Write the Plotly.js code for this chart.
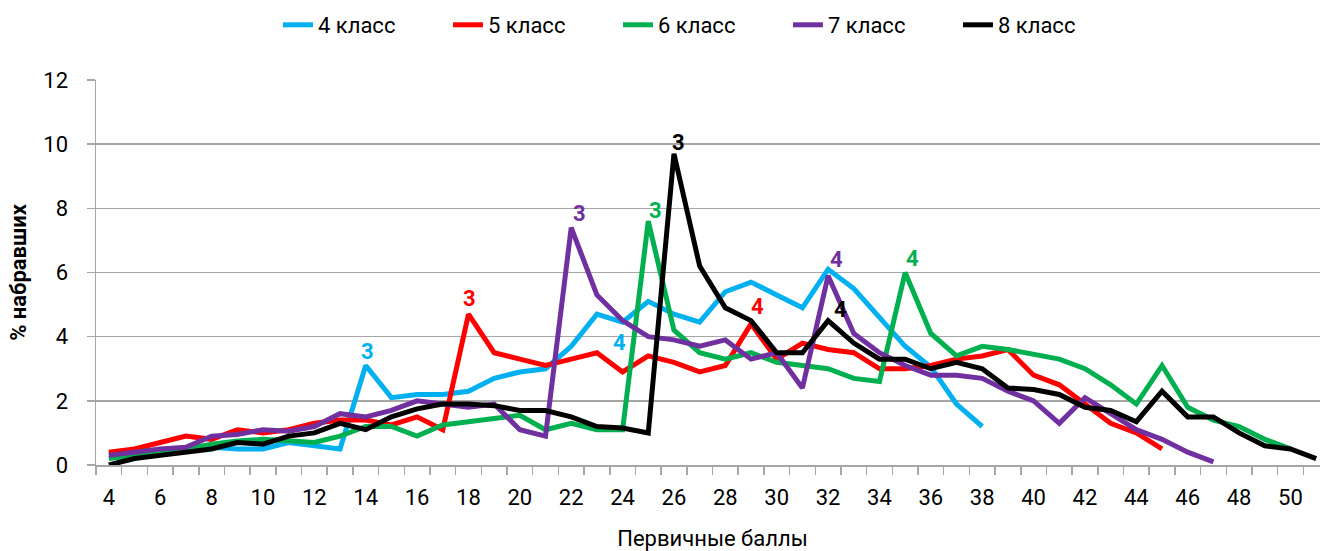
<!DOCTYPE html>
<html>
<head>
<meta charset="utf-8">
<script src="https://cdn.plot.ly/plotly-3.0.1.min.js"></script>
<style>
  html, body { margin: 0; padding: 0; overflow: hidden; background: #fff; }
  #chart { width: 1330px; height: 551px; }
</style>
</head>
<body>
<div id="chart"></div>
<script>
// Categories: primary scores
const scores = [4,5,6,7,8,9,10,11,12,13,14,15,16,17,18,19,20,21,22,23,24,25,26,27,28,29,30,31,32,33,34,35,36,37,38,39,40,41,42,43,44,45,46,47,48,49,50,51];
const xTickLabels = ['4','6','8','10','12','14','16','18','20','22','24','26','28','30','32','34','36','38','40','42','44','46','48','50'];
const xTickValues = [4,6,8,10,12,14,16,18,20,22,24,26,28,30,32,34,36,38,40,42,44,46,48,50];

const seriesNames = ['4 класс', '5 класс', '6 класс', '7 класс', '8 класс'];

// % of pupils per score (starting at score 4)
const grade4 = [0.3,0.35,0.4,0.5,0.55,0.5,0.5,0.7,0.6,0.5,
                3.1,2.1,2.2,2.2,2.3,2.7,2.9,3.0,3.7,4.7,
                4.45,5.1,4.7,4.45,5.4,5.7,5.3,4.9,6.1,5.5,
                4.6,3.7,3.05,1.9,1.2];
const grade5 = [0.4,0.5,0.7,0.9,0.8,1.1,1.0,1.1,1.3,1.4,
                1.4,1.25,1.5,1.1,4.7,3.5,3.3,3.1,3.3,3.5,
                2.9,3.4,3.2,2.9,3.1,4.4,3.3,3.8,3.6,3.5,
                3.0,3.0,3.1,3.3,3.4,3.6,2.8,2.5,1.9,1.3,
                1.0,0.5];
const grade6 = [0.2,0.3,0.4,0.5,0.65,0.75,0.8,0.75,0.7,0.9,
                1.2,1.2,0.9,1.25,1.35,1.45,1.55,1.1,1.3,1.1,
                1.1,7.6,4.2,3.5,3.3,3.5,3.2,3.1,3.0,2.7,
                2.6,6.0,4.1,3.4,3.7,3.6,3.45,3.3,3.0,2.5,
                1.9,3.1,1.8,1.4,1.2,0.8,0.5];
const grade7 = [0.3,0.4,0.5,0.55,0.9,0.95,1.1,1.05,1.2,1.6,
                1.5,1.7,2.0,1.9,1.8,1.9,1.1,0.9,7.4,5.3,
                4.5,4.0,3.9,3.7,3.9,3.3,3.5,2.4,5.9,4.1,
                3.5,3.1,2.8,2.8,2.7,2.3,2.0,1.3,2.1,1.6,
                1.1,0.8,0.4,0.1];
const grade8 = [0.0,0.2,0.3,0.4,0.5,0.7,0.65,0.9,1.0,1.3,
                1.1,1.5,1.75,1.9,1.9,1.85,1.7,1.7,1.5,1.2,
                1.15,1.0,9.7,6.2,4.9,4.5,3.5,3.5,4.5,3.8,
                3.3,3.3,3.0,3.2,3.0,2.4,2.35,2.2,1.8,1.7,
                1.35,2.3,1.5,1.5,1.0,0.6,0.5,0.2];

// Grade threshold labels: [series index, score, text]
const markSeries = [0, 0, 1, 1, 2, 2, 3, 3, 4, 4];
const markScores = [14, 24, 18, 29, 25, 35, 22, 32, 26, 32];
const markTexts  = ['3','4','3','4','3','4','3','4','3','4'];

// ---- styling (not data) ----
const colors = ['#00B0F0', '#FF0000', '#00B050', '#7030A0', '#000000'];
// pixel offsets of each label relative to its point (dx right, dy up)
const markOffsets = [[2,14],[-3,-20],[1,16],[6,17],[7,11],[7,14],[8,14],[8,16],[5,11],[12,11]];

const allSeries = [grade4, grade5, grade6, grade7, grade8];
const FONT = 'Roboto, "Liberation Sans", sans-serif';

const traces = allSeries.map((vals, i) => ({
  type: 'scatter',
  mode: 'lines',
  name: seriesNames[i],
  x: scores.slice(0, vals.length),
  y: vals,
  line: { color: colors[i], width: 5, shape: 'linear' },
  hoverinfo: 'x+y+name'
}));

const annotations = markSeries.map((s, k) => {
  const idx = scores.indexOf(markScores[k]);
  return {
    x: markScores[k],
    y: allSeries[s][idx],
    xref: 'x', yref: 'y',
    text: markTexts[k],
    showarrow: false,
    xanchor: 'center', yanchor: 'middle',
    xshift: markOffsets[k][0],
    yshift: markOffsets[k][1],
    font: { family: FONT, size: 22, color: colors[s], weight: 'bold' }
  };
});

const layout = {
  width: 1330,
  height: 551,
  margin: { l: 96, r: 1, t: 80, b: 86 },
  paper_bgcolor: '#ffffff',
  plot_bgcolor: '#ffffff',
  font: { family: FONT, size: 22, color: '#000000' },
  showlegend: true,
  legend: {
    orientation: 'h',
    xref: 'container', yref: 'container',
    x: 0.209, xanchor: 'left',
    y: 1 - 25 / 551, yanchor: 'middle',
    entrywidth: 125, entrywidthmode: 'pixels',
    font: { family: FONT, size: 22, color: '#000' },
    bgcolor: 'rgba(0,0,0,0)',
    borderwidth: 0,
    traceorder: 'normal'
  },
  xaxis: {
    range: [3.5, 51.5],
    tickmode: 'array',
    tickvals: xTickValues,
    ticktext: xTickLabels,
    ticks: '',
    ticklabelstandoff: 12,
    showgrid: false,
    zeroline: false,
    showline: true,
    linecolor: '#a6a6a6',
    linewidth: 1.5,
    tickfont: { family: FONT, size: 22, color: '#000' },
    minor: {
      tick0: 3.5, dtick: 1,
      ticks: 'outside', ticklen: 8, tickwidth: 1.5, tickcolor: '#a6a6a6',
      showgrid: false
    },
    title: { text: 'Первичные баллы', font: { family: FONT, size: 22, color: '#000' }, standoff: 24 },
    fixedrange: true
  },
  yaxis: {
    range: [0, 12],
    tickmode: 'linear', tick0: 0, dtick: 2,
    ticks: 'outside', ticklen: 8, tickwidth: 1.5, tickcolor: '#a6a6a6',
    ticklabelstandoff: 14,
    showgrid: true, gridcolor: '#a6a6a6', gridwidth: 1.5,
    zeroline: false,
    showline: true, linecolor: '#a6a6a6', linewidth: 1.5,
    tickfont: { family: FONT, size: 22, color: '#000' },
    title: { text: '% набравших', font: { family: FONT, size: 22, color: '#000', weight: 'bold' }, standoff: 10 },
    fixedrange: true
  },
  annotations: annotations
};

Plotly.newPlot('chart', traces, layout, { displayModeBar: false, staticPlot: true });
</script>
</body>
</html>
